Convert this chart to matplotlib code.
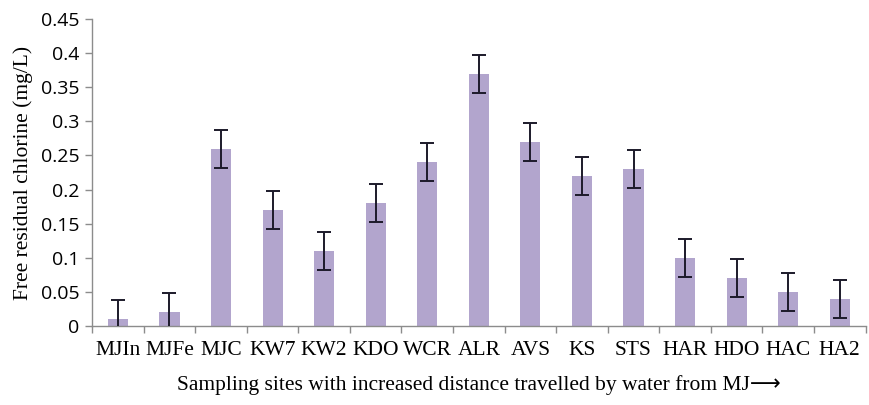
import matplotlib
matplotlib.use("Agg")
import matplotlib.pyplot as plt
import numpy as np

# free residual chlorine along the distribution line
sites = ["MJIn", "MJFe", "MJC", "KW7", "KW2", "KDO", "WCR", "ALR",
         "AVS", "KS", "STS", "HAR", "HDO", "HAC", "HA2"]
chlorine = [0.01, 0.02, 0.26, 0.17, 0.11, 0.18, 0.24, 0.37,
            0.27, 0.22, 0.23, 0.10, 0.07, 0.05, 0.04]
errors = [0.028] * len(sites)
yticks = [0, 0.05, 0.1, 0.15, 0.2, 0.25, 0.3, 0.35, 0.4, 0.45]
ytick_labels = ["0", "0.05", "0.1", "0.15", "0.2", "0.25", "0.3", "0.35", "0.4", "0.45"]

serif = ["Liberation Serif", "DejaVu Sans"]
axis_grey = "#8c8c8c"

fig = plt.figure(figsize=(8.69, 4.05), dpi=100)
ax = fig.add_axes([0.106, 0.195, 0.89, 0.758])

x = np.arange(len(sites))
ax.bar(x, chlorine, width=0.39, color="#b2a5cd", zorder=2)
ax.errorbar(x, chlorine, yerr=errors, fmt="none", ecolor="#1c1a2a",
            elinewidth=1.4, capsize=5, capthick=1.4, zorder=3)

ax.set_xlim(-0.5, len(sites) - 0.5)
ax.set_ylim(0, 0.45)
ax.set_yticks(yticks)
ax.set_yticklabels(ytick_labels, family="Open Sans", fontsize=14)

# category labels centred under bars, tick marks between categories
ax.set_xticks(x)
ax.set_xticklabels(sites, family=serif, fontsize=15.5)
ax.tick_params(axis="x", length=0, pad=11)
ax.set_xticks(np.arange(-0.5, len(sites) + 0.5, 1), minor=True)
ax.tick_params(axis="x", which="minor", length=5, color=axis_grey, width=1)
ax.tick_params(axis="y", length=5, color=axis_grey, width=1, pad=4)

for side in ["top", "right"]:
    ax.spines[side].set_visible(False)
for side in ["left", "bottom"]:
    ax.spines[side].set_color(axis_grey)
    ax.spines[side].set_linewidth(1)

ax.set_ylabel("Free residual chlorine (mg/L)", family=serif, fontsize=15.5, labelpad=6)
ax.set_xlabel("Sampling sites with increased distance travelled by water from MJ\u27f6",
              family=serif, fontsize=15.5, labelpad=11)

fig.savefig("out.png", dpi=100)
